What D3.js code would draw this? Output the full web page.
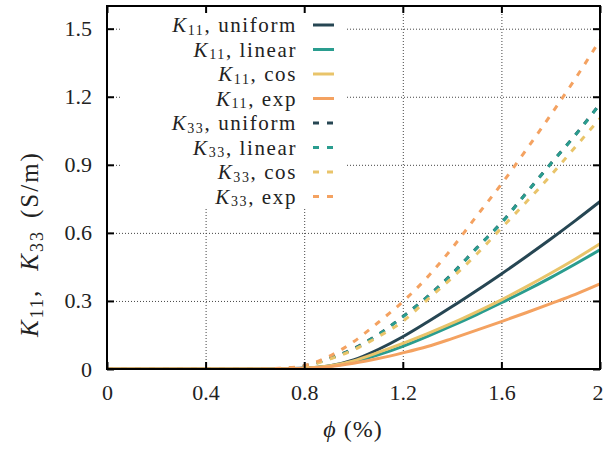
<!DOCTYPE html>
<html>
<head>
<meta charset="utf-8">
<script src="https://cdn.jsdelivr.net/npm/d3@7"></script>
<style>
  body { margin: 0; background: #fff; }
  svg { font-family: "Liberation Serif", "Times New Roman", serif; }
  svg text { fill: #222; }
</style>
</head>
<body>
<div class="chart"></div>
<script>
// volume fraction phi (%)
let phi = [0, 0.1, 0.2, 0.3, 0.4, 0.5, 0.6, 0.7, 0.8, 0.9, 1.0, 1.1, 1.2, 1.3, 1.4, 1.5, 1.6, 1.7, 1.8, 1.9, 2.0];

// K11 (solid)
let k11Uniform = [0, 0, 0, 0, 0, 0, 0, 0.001, 0.004, 0.013, 0.04, 0.086, 0.142, 0.207, 0.275, 0.346, 0.419, 0.495, 0.573, 0.654, 0.738];
let k11Linear  = [0, 0, 0, 0, 0, 0, 0, 0.0005, 0.003, 0.012, 0.031, 0.062, 0.1, 0.144, 0.191, 0.24, 0.292, 0.346, 0.403, 0.463, 0.525];
let k11Cos     = [0, 0, 0, 0, 0, 0, 0, 0.0005, 0.003, 0.013, 0.036, 0.073, 0.113, 0.156, 0.202, 0.252, 0.305, 0.362, 0.422, 0.485, 0.552];
let k11Exp     = [0, 0, 0, 0, 0, 0, 0, 0.0005, 0.003, 0.01, 0.025, 0.046, 0.071, 0.099, 0.134, 0.171, 0.209, 0.248, 0.288, 0.329, 0.375];

// K33 (dashed)
let k33Uniform = [0, 0, 0, 0, 0, 0, 0, 0.002, 0.013, 0.046, 0.09, 0.152, 0.231, 0.319, 0.42, 0.534, 0.645, 0.775, 0.905, 1.032, 1.169];
let k33Linear  = [0, 0, 0, 0, 0, 0, 0, 0.002, 0.012, 0.045, 0.088, 0.151, 0.23, 0.318, 0.419, 0.533, 0.644, 0.774, 0.904, 1.031, 1.168];
let k33Cos     = [0, 0, 0, 0, 0, 0, 0, 0.002, 0.011, 0.042, 0.084, 0.142, 0.21, 0.306, 0.402, 0.507, 0.621, 0.735, 0.853, 0.979, 1.104];
let k33Exp     = [0, 0, 0, 0, 0, 0, 0, 0.003, 0.015, 0.055, 0.12, 0.205, 0.297, 0.405, 0.533, 0.675, 0.815, 0.965, 1.12, 1.28, 1.45];

let xTicks = [0, 0.4, 0.8, 1.2, 1.6, 2];
let yTicks = [0, 0.3, 0.6, 0.9, 1.2, 1.5];

let series = [
  {sub: "11", name: "uniform", values: k11Uniform, color: "#264653", dashed: false},
  {sub: "11", name: "linear",  values: k11Linear,  color: "#2a9d8f", dashed: false},
  {sub: "11", name: "cos",     values: k11Cos,     color: "#e9c46a", dashed: false},
  {sub: "11", name: "exp",     values: k11Exp,     color: "#f4a261", dashed: false},
  {sub: "33", name: "uniform", values: k33Uniform, color: "#264653", dashed: true},
  {sub: "33", name: "linear",  values: k33Linear,  color: "#2a9d8f", dashed: true},
  {sub: "33", name: "cos",     values: k33Cos,     color: "#e9c46a", dashed: true},
  {sub: "33", name: "exp",     values: k33Exp,     color: "#f4a261", dashed: true}
];

let svgWidth = 603;
let svgHeight = 449;
let margin = {top: 6, right: 3, bottom: 80, left: 107};
let width = svgWidth - margin.left - margin.right;
let height = svgHeight - margin.top - margin.bottom;

let svg = d3.select(".chart")
  .append("svg")
  .attr("width", svgWidth)
  .attr("height", svgHeight);

let chartGroup = svg.append("g")
  .attr("transform", `translate(${margin.left}, ${margin.top})`);

let xScale = d3.scaleLinear().domain([0, 2]).range([0, width]);
let yScale = d3.scaleLinear().domain([0, 1.6]).range([height, 0]);

// grid
let gridStyle = g => {
  g.select(".domain").remove();
  g.selectAll(".tick line")
    .attr("stroke", "#444")
    .attr("stroke-width", 1)
    .attr("stroke-dasharray", "1,2");
};
chartGroup.append("g")
  .attr("transform", `translate(0, ${height})`)
  .call(d3.axisBottom(xScale).tickValues(xTicks.slice(1, -1)).tickSize(-height).tickFormat(""))
  .call(gridStyle);
chartGroup.append("g")
  .call(d3.axisLeft(yScale).tickValues(yTicks.slice(1)).tickSize(-width).tickFormat(""))
  .call(gridStyle);

// opaque key box
chartGroup.append("rect")
  .attr("x", 122 - margin.left)
  .attr("y", 1)
  .attr("width", 345 - 122)
  .attr("height", 207 - margin.top)
  .attr("fill", "#fff");

// curves
chartGroup.append("clipPath").attr("id", "clip")
  .append("rect").attr("width", width).attr("height", height);

let line = d3.line()
  .x((d, i) => xScale(phi[i]))
  .y(d => yScale(d))
  .curve(d3.curveMonotoneX);

chartGroup.append("g")
  .attr("clip-path", "url(#clip)")
  .selectAll("path")
  .data(series)
  .enter()
  .append("path")
  .attr("d", d => line(d.values))
  .attr("fill", "none")
  .attr("stroke", d => d.color)
  .attr("stroke-width", 3)
  .attr("stroke-dasharray", d => d.dashed ? "6,8" : null);

// axes: inward ticks on all sides
let axisStyle = g => {
  g.attr("font-family", "Liberation Serif, serif").attr("font-size", 22);
  g.select(".domain").remove();
  g.selectAll(".tick line").attr("stroke", "#000").attr("stroke-width", 2);
  g.selectAll(".tick text").attr("fill", "#222");
};
let xAxisBottom = chartGroup.append("g")
  .attr("transform", `translate(0, ${height})`)
  .call(d3.axisBottom(xScale).tickValues(xTicks).tickSize(-7).tickPadding(15).tickFormat(d3.format("")))
  .call(axisStyle);
// keep the last label inside the window
xAxisBottom.selectAll(".tick text").filter(d => d === 2)
  .attr("text-anchor", "end").attr("x", 3);

chartGroup.append("g")
  .call(d3.axisTop(xScale).tickValues(xTicks).tickSize(-7).tickFormat(""))
  .call(axisStyle);
chartGroup.append("g")
  .call(d3.axisLeft(yScale).tickValues(yTicks).tickSize(-7).tickPadding(15).tickFormat(d3.format("")))
  .call(axisStyle);
chartGroup.append("g")
  .attr("transform", `translate(${width}, 0)`)
  .call(d3.axisRight(yScale).tickValues(yTicks).tickSize(-7).tickFormat(""))
  .call(axisStyle);

// frame
chartGroup.append("rect")
  .attr("width", width)
  .attr("height", height)
  .attr("fill", "none")
  .attr("stroke", "#000")
  .attr("stroke-width", 2);

// legend
let legend = svg.append("g");
let rows = legend.selectAll("g")
  .data(series)
  .enter()
  .append("g")
  .attr("transform", (d, i) => `translate(0, ${25 + i * 24.5})`);

let label = rows.append("text")
  .attr("x", 297)
  .attr("y", 7)
  .attr("text-anchor", "end")
  .style("font-size", "21px")
  .style("letter-spacing", "1.6px");
label.append("tspan").style("font-style", "italic").text("K");
label.append("tspan").attr("dy", 2.5).style("font-size", "14px").text(d => d.sub);
label.append("tspan").attr("dy", -2.5).text(d => ", " + d.name);

rows.append("line")
  .attr("x1", 313)
  .attr("x2", 334)
  .attr("stroke", d => d.color)
  .attr("stroke-width", 3)
  .attr("stroke-dasharray", d => d.dashed ? "6,8" : null);

// axis titles
let yTitle = svg.append("text")
  .attr("transform", "translate(38, 337) rotate(-90)")
  .attr("text-anchor", "start")
  .style("font-size", "25px")
  .style("letter-spacing", "2px");
yTitle.append("tspan").style("font-style", "italic").text("K");
yTitle.append("tspan").attr("dy", 5).style("font-size", "18px").text("11");
yTitle.append("tspan").attr("dy", -5).text(",");
yTitle.append("tspan").attr("dx", 18).style("font-style", "italic").text("K");
yTitle.append("tspan").attr("dy", 5).style("font-size", "18px").text("33");
yTitle.append("tspan").attr("dy", -5).attr("dx", 12).text("(S/m)");

let xTitle = svg.append("text")
  .attr("x", 353)
  .attr("y", 437)
  .attr("text-anchor", "middle")
  .style("font-size", "24px")
  .style("letter-spacing", "1px");
xTitle.append("tspan").style("font-style", "italic").text("ϕ");
xTitle.append("tspan").text(" (%)");
</script>
</body>
</html>
